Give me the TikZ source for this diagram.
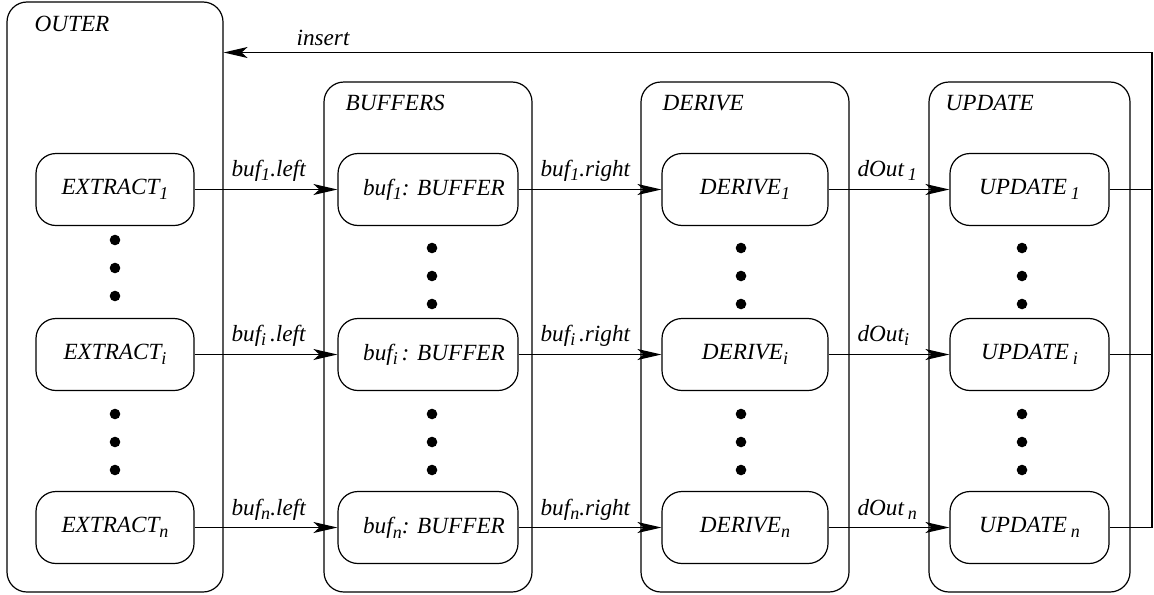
\documentclass[tikz,border=0pt]{standalone}
\usepackage{fontspec}
\setmainfont{Liberation Serif}
\usetikzlibrary{arrows.meta}
\newcommand{\sbs}[1]{\raisebox{-0.45ex}{\fontsize{9}{10}\selectfont #1}}
\begin{document}
\begin{tikzpicture}[x=0.5pt,y=-0.5pt, line width=0.6pt,
  txt/.style={font=\itshape\fontsize{11.6}{13}\selectfont},
  outerbox/.style={draw, rounded corners=10pt, minimum height=255pt, minimum width=104pt, inner sep=0pt},
  innerbox/.style={draw, rounded corners=10pt, minimum height=36pt, inner sep=0pt, txt},
  lab/.style={txt, anchor=base west, inner sep=0pt},
  arr/.style={-{Stealth[length=12pt,width=5.5pt,inset=3pt]}},
  dot/.style={fill=black}]
\useasboundingbox (0,0) rectangle (1154,594);
% outer boxes
\node[outerbox, minimum width=108pt, minimum height=295pt] (outer) at (115,297) {};
\node[outerbox] (buffers) at (428,337) {};
\node[outerbox] (derive) at (745,337) {};
\node[outerbox, minimum width=100.5pt] (update) at (1029.5,337) {};
\node[lab] (outerlab) at (34,31) {OUTER};
\node[lab] (buflab) at (345,110) {BUFFERS};
\node[lab] (derlab) at (662,110) {DERIVE};
\node[lab] (updlab) at (945,110) {UPDATE};
% inner boxes
\foreach \r/\y/\s/\g in {1/189.5/1/,i/354.5/i/\,,n/527.5/n/} {
  \node[innerbox, minimum width=79pt] (e\r) at (115,\y) {EXTRACT\sbs{\s}};
  \node[innerbox, minimum width=90pt] (b\r) at (428,\y) {\hspace*{6pt}buf\sbs{\s}\g: BUFFER};
  \node[innerbox, minimum width=83pt] (d\r) at (745,\y) {DERIVE\sbs{\s}};
  \node[innerbox, minimum width=79.5pt] (u\r) at (1029.5,\y) {UPDATE\,\sbs{\s}};
}
% dots
\foreach \y in {240,268,296,414,442,470} \fill[dot] (115,\y) circle (2.65pt);
\foreach \x in {432,741,1022} {
  \foreach \y in {248,276,304,414,442,470} \fill[dot] (\x,\y) circle (2.65pt);
}
% connectors
\foreach \r in {1,i,n} {
  \draw[arr] (e\r) -- (b\r);
  \draw[arr] (b\r) -- (d\r);
  \draw[arr] (d\r) -- (u\r);
}
\coordinate (ins) at (1152,52.5);
\draw (u1.east) -- (u1.east -| ins);
\draw (ui.east) -- (ui.east -| ins);
\draw[arr] (un.east) -| (ins) -- (outer.east |- ins);
% labels
\node[lab] (inslab) at (296,45) {insert};
\node[lab] at (231,176) {buf\sbs{1}.left};
\node[lab] at (540,176) {buf\sbs{1}.right};
\node[lab] at (857,176) {dOut\,\sbs{1}};
\node[lab] at (231,341) {buf\sbs{i}\,.left};
\node[lab] at (540,341) {buf\sbs{i}\,.right};
\node[lab] at (857,341) {dOut\sbs{i}};
\node[lab] at (231,515) {buf\sbs{n}.left};
\node[lab] at (540,515) {buf\sbs{n}.right};
\node[lab] at (857,515) {dOut\,\sbs{n}};
\end{tikzpicture}
\end{document}
